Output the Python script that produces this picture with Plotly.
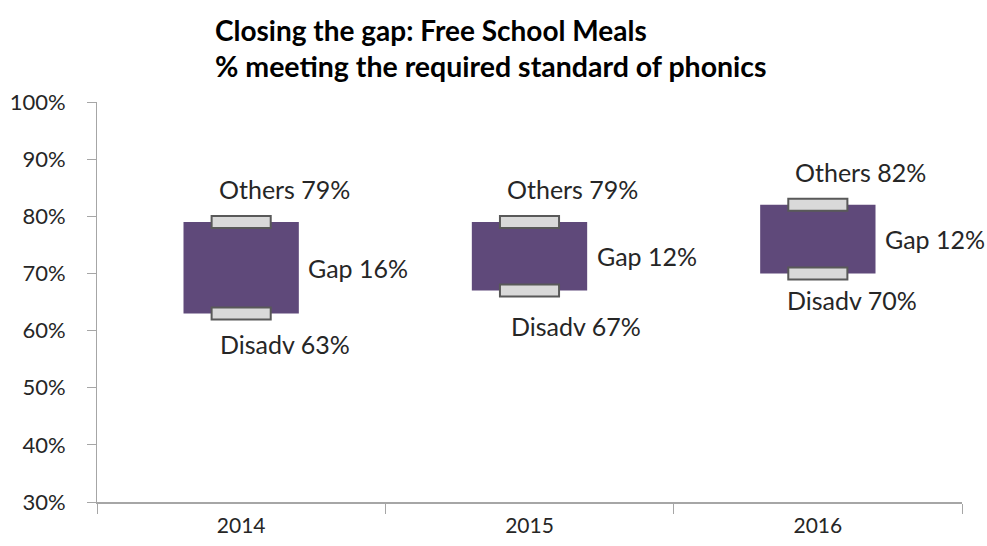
import plotly.graph_objects as go

years = ["2014", "2015", "2016"]
disadv = [0.63, 0.67, 0.70]
others = [0.79, 0.79, 0.82]
gap = [0.16, 0.12, 0.12]
y_ticks = [0.3, 0.4, 0.5, 0.6, 0.7, 0.8, 0.9, 1.0]

# styling
FONT = "Lato"
PURPLE = "#5F497A"
CAP_FILL = "#D9D9D9"
CAP_LINE = "#595959"
CAP_H = 0.021
disadv_offsets = [(44, -31), (46, -35), (34, -27)]

fig = go.Figure()
fig.add_trace(go.Bar(
    x=years, y=[o - d for o, d in zip(others, disadv)], base=disadv,
    width=0.4, marker=dict(color=PURPLE, line=dict(width=0)),
    hoverinfo="skip", showlegend=False))
for vals in (others, disadv):
    fig.add_trace(go.Bar(
        x=years, y=[CAP_H] * len(years), base=[v - CAP_H / 2 for v in vals],
        width=0.205, marker=dict(color=CAP_FILL, line=dict(color=CAP_LINE, width=2)),
        hoverinfo="skip", showlegend=False))

lab_font = dict(family=FONT, size=25, color="#262626")
for i, yr in enumerate(years):
    fig.add_annotation(x=i, y=others[i], xref="x", yref="y",
                       text=f"Others {others[i]*100:.0f}%",
                       xshift=43, yshift=33, showarrow=False, font=lab_font)
    fig.add_annotation(x=i, y=(others[i] + disadv[i]) / 2, xref="x", yref="y",
                       text=f"Gap {gap[i]*100:.0f}%",
                       xshift=65, xanchor="left", showarrow=False, font=lab_font)
    dx, dy = disadv_offsets[i]
    fig.add_annotation(x=i, y=disadv[i], xref="x", yref="y",
                       text=f"Disadv {disadv[i]*100:.0f}%",
                       xshift=dx, yshift=dy, showarrow=False, font=lab_font)

fig.add_annotation(xref="paper", yref="paper", x=(213 - 97) / 865, y=(502 - 30) / 400,
                   xanchor="left", yanchor="middle", showarrow=False,
                   text="<b>Closing the gap: Free School Meals</b>",
                   font=dict(family=FONT, size=28, color="#000000"))
fig.add_annotation(xref="paper", yref="paper", x=(213 - 97) / 865, y=(502 - 66) / 400,
                   xanchor="left", yanchor="middle", showarrow=False,
                   text="<b>% meeting the required standard of phonics</b>",
                   font=dict(family=FONT, size=28.5, color="#000000"))

fig.update_layout(
    width=987, height=546,
    margin=dict(l=97, r=25, t=102, b=44),
    paper_bgcolor="white", plot_bgcolor="white",
    barmode="overlay",
    font=dict(family=FONT, size=21, color="#262626"),
    xaxis=dict(type="category", tickson="boundaries", ticks="outside", ticklen=10,
               tickcolor="#A6A6A6", showline=True, linecolor="#A6A6A6", linewidth=2,
               showgrid=False, range=[-0.5, 2.5], fixedrange=True, automargin=False,
               tickfont=dict(size=21), ticklabelstandoff=4),
    yaxis=dict(range=[0.3, 1.0], tickvals=y_ticks, tickformat=".0%", ticks="outside",
               ticklen=9, tickcolor="#A6A6A6", showline=True, linecolor="#A6A6A6",
               linewidth=1, showgrid=False, zeroline=False, fixedrange=True,
               automargin=False, tickfont=dict(size=22), ticklabelstandoff=17),
)
fig.write_html("out.html")
